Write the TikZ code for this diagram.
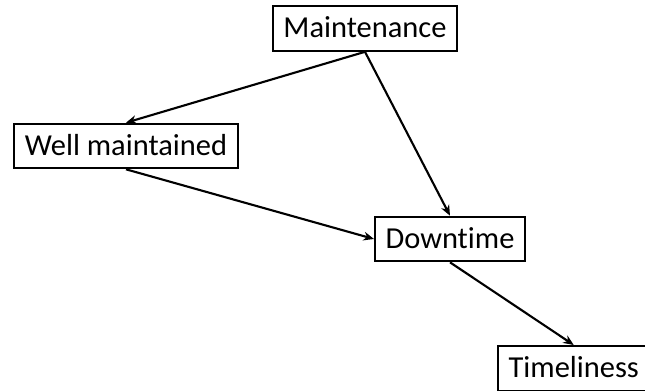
\documentclass[tikz,border=0pt]{standalone}
\usepackage{fontspec}
\setmainfont[Ligatures={NoCommon}]{Carlito}
\usepackage{tikz}
\usetikzlibrary{arrows.meta, positioning}

\begin{document}
\begin{tikzpicture}[x=0.03cm, y=-0.03cm,
    factor/.style={draw, line width=1.8pt, inner xsep=9pt, minimum height=38pt,
        text height=20pt, text depth=4.5pt, font=\fontsize{26pt}{30pt}\selectfont},
    link/.style={line width=1.8pt, -{Stealth[length=9pt, width=7.5pt]}}]
    % Frame of the picture (the last box runs past its edge)
    \clip (0,0) rectangle (645,390);

    % Factors
    \node[factor] (maint) at (365,28.5) {Maintenance};
    \node[factor] (well) at (126,146) {Well maintained};
    \node[factor] (down) at (450,239) {Downtime};
    \node[factor, anchor=north west] (time) at (497,345) {Timeliness};

    % Links between factors
    \draw[link] (maint.south) -- (well.north);
    \draw[link] (maint.south) -- (down.north);
    \draw[link] (well.south) -- (down.west);
    \draw[link] (down.south) -- (time.north);
\end{tikzpicture}
\end{document}
